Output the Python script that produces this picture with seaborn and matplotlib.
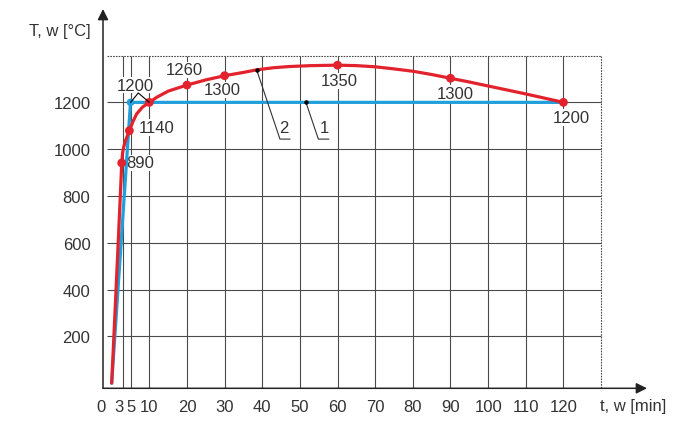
import matplotlib

matplotlib.use("Agg")
import matplotlib.pyplot as plt
import matplotlib.transforms as mtransforms
import pandas as pd
import seaborn as sns

# curve 2 (red)
red_t = [0, 0.9, 1.5, 2.2, 2.45, 2.66, 2.9, 3.2, 3.7, 4.7, 5.6, 6.6, 8.2, 10, 12, 15, 20, 25, 30,
         35, 38.5, 43, 47, 53, 60, 65, 70, 75, 80, 85, 90, 95, 100, 105, 110, 115, 120]
red_T = [0, 310, 520, 770, 860, 941, 985, 1010, 1038, 1079, 1116, 1150, 1180, 1200, 1222, 1248, 1274, 1296, 1314,
         1328, 1339, 1348, 1353, 1357, 1359, 1357, 1352, 1343, 1333, 1319, 1303, 1287, 1270, 1253, 1236, 1218, 1200]

# curve 1 (blue)
blue_t = [0, 5, 120]
blue_T = [0, 1200, 1200]

# marked points and their labels
red_pt_t = [2.66, 4.7, 10, 20, 30, 60, 90, 120]
red_pt_T = [941, 1079, 1200, 1274, 1314, 1359, 1303, 1200]
blue_pt_t = [5]
blue_pt_T = [1200]

labels = ["890", "1140", "1200", "1260", "1300", "1350", "1300", "1200"]
label_t = [7.5, 11.95, 6.4, 19.3, 29.5, 60.5, 91.2, 122.2]
label_T = [941, 1093, 1274, 1339, 1254, 1292, 1238, 1136]

x_ticks = [0, 3, 5, 10, 20, 30, 40, 50, 60, 70, 80, 90, 100, 110, 120]
y_ticks = [200, 400, 600, 800, 1000, 1200]
x_grid = [3, 5, 10, 20, 30, 40, 50, 60, 70, 80, 90, 100, 110, 120]
y_grid = [200, 400, 600, 800, 1000, 1200]

RED = "#e2222c"
BLUE = "#1f9fdb"
TXT = "#333333"

sns.set_theme(style="white")
plt.rcParams["font.family"] = ["Liberation Sans", "DejaVu Sans"]

fig = plt.figure(figsize=(7, 4.27), dpi=100)
ax = fig.add_axes([103 / 700, 37.7 / 427, 544 / 700, 379.3 / 427])
ax.set_xlim(-2.31, 142.2)
ax.set_ylim(-22, 1599)

# grid drawn by hand so it stops at t=130 / T=1400
ax.hlines(y_grid, -1.3, 130, color="#4a4a4a", lw=0.8, zorder=1)
ax.vlines(x_grid, -22, 1400, color="#4a4a4a", lw=0.8, zorder=1)
ax.hlines([1400], -1.3, 130, color="#4a4a4a", lw=0.8, ls=(0, (1.5, 1)), zorder=1)
ax.vlines([130], -22, 1400, color="#4a4a4a", lw=0.8, ls=(0, (1.5, 1)), zorder=1)

blue = pd.DataFrame({"t": blue_t, "T": blue_T})
red = pd.DataFrame({"t": red_t, "T": red_T})
sns.lineplot(data=blue, x="t", y="T", color=BLUE, lw=2.3, sort=False, estimator=None, ax=ax, zorder=3)
sns.lineplot(data=red, x="t", y="T", color=RED, lw=2.3, sort=False, estimator=None, ax=ax, zorder=4)
sns.scatterplot(x=blue_pt_t, y=blue_pt_T, color=BLUE, s=30, edgecolor="none", ax=ax, zorder=5)
sns.scatterplot(x=red_pt_t, y=red_pt_T, color=RED, s=40, edgecolor="none", ax=ax, zorder=5)

# value labels sit on white patches that hide the grid but not the curves
for lab, xt, yt in zip(labels, label_t, label_T):
    ax.text(xt, yt, lab, ha="center", va="center", fontsize=12, color=TXT, zorder=2,
            bbox=dict(facecolor="white", edgecolor="none", pad=0.5))

# bracket tying the upper "1200" to both points
ax.plot([5, 7.07, 10], [1200, 1240, 1200], color="black", lw=0.8, zorder=6)

# leaders for curve numbers
ax.plot([38.5, 44.7, 47.4], [1339, 1043, 1043], color="#333333", lw=0.8, zorder=6)
ax.plot([51.6, 54.9, 57.7], [1200, 1043, 1043], color="#333333", lw=0.8, zorder=6)
ax.scatter([38.5, 51.6], [1339, 1200], color="black", s=5, zorder=7)
ax.text(45.8, 1093, "2", ha="center", va="center", fontsize=12, color=TXT, zorder=6)
ax.text(56.5, 1093, "1", ha="center", va="center", fontsize=12, color=TXT, zorder=6)

# axes with arrow heads
for s in ax.spines.values():
    s.set_visible(False)
arrow = dict(arrowstyle="-|>", color="#222222", lw=1.1, mutation_scale=16, shrinkA=0, shrinkB=0)
ax.annotate("", xy=(1, 0), xytext=(0, 0), xycoords="axes fraction", arrowprops=arrow)
ax.annotate("", xy=(0, 1), xytext=(0, 0), xycoords="axes fraction", arrowprops=arrow)

ax.set_xticks(x_ticks)
ax.set_yticks(y_ticks)
ax.tick_params(axis="both", length=0, labelsize=12, labelcolor=TXT)
ax.tick_params(axis="x", pad=8)
ax.tick_params(axis="y", pad=9)
ax.set_xlabel("")
ax.set_ylabel("")
ax.grid(False)

# nudge the crowded labels near the origin
xl = ax.get_xticklabels()
xl[0].set_transform(xl[0].get_transform() + mtransforms.ScaledTranslation(-11 / 100, 0, fig.dpi_scale_trans))
xl[1].set_transform(xl[1].get_transform() + mtransforms.ScaledTranslation(-4 / 100, 0, fig.dpi_scale_trans))

fig.text(91 / 700, 1 - 31.7 / 427, "T, w [°C]", ha="right", va="center", fontsize=12, color=TXT)
fig.text(600 / 700, 1 - 407 / 427, "t, w [min]", ha="left", va="center", fontsize=12, color=TXT)

fig.savefig("out.png", dpi=100)
